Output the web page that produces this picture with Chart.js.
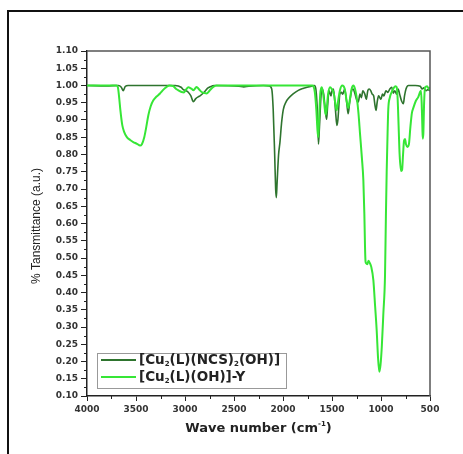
<!DOCTYPE html>
<html>
<head>
<meta charset="utf-8">
<script src="https://cdn.jsdelivr.net/npm/chart.js@4.4.1/dist/chart.umd.min.js"></script>
<style>
  html, body { margin: 0; padding: 0; background: #fff; }
  #wrap { width: 463px; height: 454px; }
</style>
</head>
<body>
<div id="wrap"><canvas id="ir" width="463" height="454"></canvas></div>
<script>
// FT-IR spectra, wave number (cm-1) vs transmittance
const darkWave = [4000, 3800, 3680, 3650, 3630, 3610, 3580, 3100, 3040, 3017, 2990, 2969, 2940, 2915, 2890, 2860, 2847, 2800, 2765, 2720, 2700,
  2450, 2400, 2350, 2200, 2140, 2115, 2100, 2085, 2075, 2068, 2060, 2045, 2031, 2015, 1997, 1970, 1946, 1900, 1844, 1790, 1742, 1700, 1680,
  1665, 1650, 1638, 1628, 1612, 1600, 1585, 1565, 1555, 1545, 1530, 1510, 1500, 1485, 1465, 1450, 1440, 1420, 1405, 1390, 1370, 1350, 1335,
  1320, 1300, 1285, 1265, 1245, 1232, 1215, 1200, 1185, 1165, 1150, 1135, 1120, 1105, 1090, 1075, 1060, 1050, 1040, 1025, 1000, 985, 970,
  950, 930, 910, 890, 875, 860, 840, 825, 810, 790, 772, 760, 745, 720, 650, 600, 580, 565, 540, 520, 500]
const darkT = [1.0, 0.999, 1.0, 0.995, 0.985, 0.997, 1.0, 1.0, 0.995, 0.988, 0.985, 0.981, 0.97, 0.953, 0.962, 0.968, 0.97, 0.982, 0.993, 0.999, 1.0,
  0.998, 0.996, 0.998, 1.0, 0.999, 0.99, 0.93, 0.80, 0.70, 0.675, 0.72, 0.80, 0.836, 0.89, 0.93, 0.952, 0.962, 0.975, 0.986, 0.992, 0.996, 0.999, 1.0,
  0.99, 0.93, 0.83, 0.88, 0.97, 0.99, 0.975, 0.92, 0.902, 0.94, 0.985, 0.97, 0.985, 0.99, 0.93, 0.884, 0.90, 0.975, 0.98, 0.975, 0.99, 0.95, 0.918,
  0.95, 0.985, 0.99, 0.975, 0.955, 0.952, 0.975, 0.965, 0.985, 0.975, 0.96, 0.985, 0.99, 0.985, 0.975, 0.97, 0.94, 0.928, 0.95, 0.97, 0.96, 0.975, 0.97,
  0.985, 0.98, 0.99, 0.995, 0.978, 0.985, 0.975, 0.99, 0.975, 0.955, 0.947, 0.97, 0.99, 1.0, 1.0, 0.998, 0.99, 0.993, 0.985, 0.988, 0.985]

const lightWave = [4000, 3700, 3685, 3670, 3660, 3640, 3620, 3595, 3560, 3528, 3490, 3459, 3440, 3415, 3395, 3374, 3350, 3323, 3290, 3255, 3220,
  3187, 3160, 3120, 3090, 3068, 3034, 3010, 2990, 2965, 2949, 2930, 2915, 2895, 2881, 2860, 2830, 2800, 2779, 2750, 2711, 2680, 1700, 1690,
  1675, 1660, 1648, 1640, 1632, 1620, 1606, 1595, 1580, 1565, 1555, 1540, 1520, 1503, 1480, 1462, 1452, 1440, 1420, 1395, 1370, 1350, 1335,
  1320, 1300, 1282, 1265, 1245, 1230, 1214, 1195, 1180, 1170, 1163, 1158, 1153, 1140, 1128, 1115, 1100, 1078, 1060, 1044, 1030, 1017, 1005,
  992, 976, 959, 950, 942, 933, 926, 910, 891, 870, 852, 840, 830, 820, 810, 795, 785, 775, 765, 755, 745, 730, 715, 700, 685, 670, 645,
  619, 600, 592, 585, 578, 574, 568, 560, 550, 530, 510, 500]
const lightT = [1.0, 1.0, 0.995, 0.96, 0.93, 0.885, 0.865, 0.851, 0.842, 0.836, 0.831, 0.826, 0.83, 0.851, 0.88, 0.914, 0.94, 0.957, 0.968, 0.977, 0.988,
  0.996, 1.0, 0.998, 0.99, 0.986, 0.981, 0.98, 0.988, 0.995, 0.993, 0.99, 0.986, 0.992, 0.996, 0.99, 0.981, 0.978, 0.977, 0.985, 0.996, 1.0, 1.0, 0.998,
  0.98, 0.93, 0.87, 0.85, 0.90, 0.975, 0.995, 0.985, 0.95, 0.915, 0.93, 0.975, 0.995, 0.99, 0.975, 0.94, 0.928, 0.95, 0.985, 1.0, 0.99, 0.955, 0.935,
  0.955, 0.99, 1.0, 0.99, 0.96, 0.92, 0.86, 0.79, 0.725, 0.63, 0.532, 0.49, 0.485, 0.482, 0.492, 0.486, 0.475, 0.436, 0.36, 0.29, 0.21, 0.17, 0.19,
  0.242, 0.339, 0.45, 0.62, 0.75, 0.86, 0.93, 0.965, 0.981, 0.993, 0.998, 0.995, 0.96, 0.88, 0.80, 0.752, 0.755, 0.80, 0.84, 0.845, 0.83, 0.822, 0.83, 0.88, 0.92, 0.935, 0.955,
  0.967, 0.982, 0.985, 0.95, 0.88, 0.846, 0.86, 0.95, 0.995, 0.998, 0.99, 0.995]

const seriesNames = ['[Cu_2(L)(NCS)_2(OH)]', '[Cu_2(L)(OH)]-Y']
const darkColor = '#2e742e'
const lightColor = '#36e636'

const yMin = 0.10, yMax = 1.10, yStep = 0.05
const xMin = 500, xMax = 4000, xStep = 500

const toPoints = (xs, ys) => xs.map((x, i) => ({x: x, y: ys[i]}))

// draws text where "_" marks a subscript char and "^{...}" a superscript run
function richParts(str) {
  const parts = []
  let i = 0
  while (i < str.length) {
    if (str[i] === '_') {
      parts.push({t: str[i + 1], k: 'sub'}); i += 2
    } else if (str[i] === '^') {
      const end = str.indexOf('}', i)
      parts.push({t: str.slice(i + 2, end), k: 'sup'}); i = end + 1
    } else {
      let j = i
      while (j < str.length && str[j] !== '_' && str[j] !== '^') j++
      parts.push({t: str.slice(i, j), k: null}); i = j
    }
  }
  return parts
}

function drawRich(ctx, str, x, y, size, family, align) {
  const parts = richParts(str)
  const small = Math.round(size * 0.55)
  const fontFor = (k) => 'bold ' + (k ? small : size) + 'px ' + family
  let total = 0
  parts.forEach(p => { ctx.font = fontFor(p.k); p.w = ctx.measureText(p.t).width; total += p.w })
  let cx = align === 'center' ? x - total / 2 : x
  ctx.textAlign = 'left'
  ctx.textBaseline = 'middle'
  parts.forEach(p => {
    ctx.font = fontFor(p.k)
    let dy = 0
    if (p.k === 'sub') dy = size * 0.3
    if (p.k === 'sup') dy = -size * 0.4
    ctx.fillText(p.t, cx, y + dy)
    cx += p.w
  })
}

const decorations = {
  id: 'decorations',
  beforeDraw(chart) {
    const ctx = chart.ctx
    ctx.save()
    ctx.fillStyle = '#fff'
    ctx.fillRect(0, 0, chart.width, chart.height)
    // outer frame, open at right and bottom
    ctx.strokeStyle = '#111'
    ctx.lineWidth = 2
    ctx.beginPath()
    ctx.moveTo(8, chart.height)
    ctx.lineTo(8, 11)
    ctx.lineTo(chart.width, 11)
    ctx.stroke()
    ctx.restore()
  },
  afterDraw(chart) {
    const ctx = chart.ctx
    const area = chart.chartArea
    const xs = chart.scales.x
    const ys = chart.scales.y
    ctx.save()

    // top and right edges of the plot box
    ctx.strokeStyle = '#555'
    ctx.lineWidth = 1.5
    ctx.beginPath()
    ctx.moveTo(area.left, area.top)
    ctx.lineTo(area.right, area.top)
    ctx.lineTo(area.right, area.bottom)
    ctx.stroke()

    // minor ticks
    ctx.strokeStyle = '#222'
    ctx.lineWidth = 1
    ctx.beginPath()
    for (let v = yMin + yStep / 2; v < yMax; v += yStep) {
      const py = Math.round(ys.getPixelForValue(v)) + 0.5
      ctx.moveTo(area.left - 3, py)
      ctx.lineTo(area.left, py)
    }
    for (let v = xMin + xStep / 2; v < xMax; v += xStep) {
      const px = Math.round(xs.getPixelForValue(v)) + 0.5
      ctx.moveTo(px, area.bottom)
      ctx.lineTo(px, area.bottom + 3)
    }
    ctx.stroke()

    // legend
    const lx = 97, ly = 353, lw = 189, lh = 35
    ctx.fillStyle = '#fff'
    ctx.fillRect(lx, ly, lw, lh)
    ctx.strokeStyle = '#999'
    ctx.lineWidth = 1
    ctx.strokeRect(lx + 0.5, ly + 0.5, lw, lh)
    const rows = [[seriesNames[0], darkColor, 360], [seriesNames[1], lightColor, 377]]
    rows.forEach(([name, color, ry]) => {
      ctx.strokeStyle = color
      ctx.lineWidth = 2
      ctx.beginPath()
      ctx.moveTo(101, ry)
      ctx.lineTo(136, ry)
      ctx.stroke()
      ctx.fillStyle = '#222'
      drawRich(ctx, name, 139, ry, 13.5, '"DejaVu Sans"', 'left')
    })

    // axis titles
    ctx.fillStyle = '#222'
    drawRich(ctx, 'Wave number (cm^{-1})', (area.left + area.right) / 2, 429, 13, '"DejaVu Sans"', 'center')

    ctx.translate(37, 226)
    ctx.rotate(-Math.PI / 2)
    ctx.font = '12px "Liberation Sans"'
    ctx.textAlign = 'center'
    ctx.textBaseline = 'middle'
    ctx.fillText('% Tansmittance (a.u.)', 0, 0)
    ctx.restore()
  }
}

const tickFont = {family: '"DejaVu Sans"', size: 9, weight: 'bold'}

new Chart(document.getElementById('ir'), {
  type: 'line',
  data: {
    datasets: [
      {
        label: seriesNames[0],
        data: toPoints(darkWave, darkT),
        borderColor: darkColor,
        borderWidth: 1.6,
        pointRadius: 0,
        cubicInterpolationMode: 'monotone',
        order: 1
      },
      {
        label: seriesNames[1],
        data: toPoints(lightWave, lightT),
        borderColor: lightColor,
        borderWidth: 2,
        pointRadius: 0,
        cubicInterpolationMode: 'monotone',
        order: 0
      }
    ]
  },
  options: {
    responsive: false,
    animation: false,
    layout: {padding: {left: 17, right: 33, top: 51, bottom: 13}},
    plugins: {
      legend: {display: false},
      tooltip: {enabled: false}
    },
    scales: {
      x: {
        type: 'linear',
        reverse: true,
        min: xMin,
        max: xMax,
        ticks: {stepSize: xStep, font: tickFont, color: '#333', padding: 3, maxRotation: 0, callback: v => String(v)},
        grid: {drawOnChartArea: false, tickLength: 5, tickColor: '#222'},
        border: {color: '#222', width: 1.5},
        afterFit(scale) { scale.height = 45 }
      },
      y: {
        type: 'linear',
        min: yMin,
        max: yMax,
        ticks: {stepSize: yStep, font: tickFont, color: '#333', padding: 3, callback: v => v.toFixed(2)},
        grid: {drawOnChartArea: false, tickLength: 6, tickColor: '#222'},
        border: {color: '#222', width: 1.5},
        afterFit(scale) { scale.width = 70 }
      }
    }
  },
  plugins: [decorations]
})
</script>
</body>
</html>
